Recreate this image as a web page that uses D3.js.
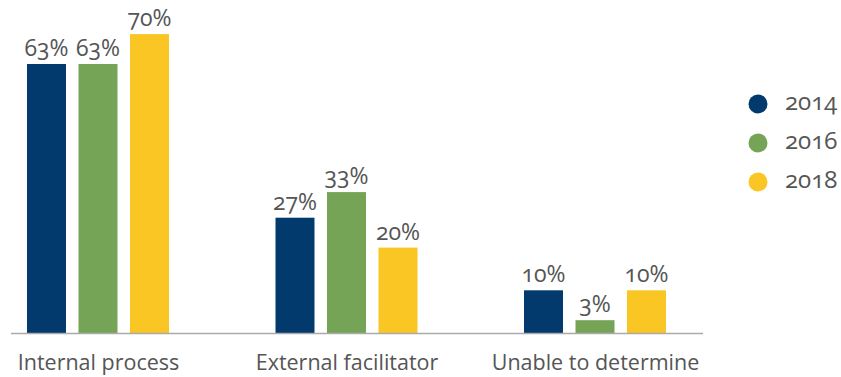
<!DOCTYPE html>
<html><head><meta charset="utf-8">
<script src="https://cdn.jsdelivr.net/npm/d3@7"></script>
<style>
body{margin:0;background:#fff}
svg text{font-family:'Open Sans',sans-serif;font-variant-numeric:oldstyle-nums;font-feature-settings:"onum" 1;fill:#555}
</style>
</head><body>
<svg id="chart" width="841" height="377"></svg>
<script>
// Share of responses by source, per survey year (percent)
const categories = ["Internal process", "External facilitator", "Unable to determine"];
const years = ["2014", "2016", "2018"];
const values2014 = [63, 27, 10];
const values2016 = [63, 33, 3];
const values2018 = [70, 20, 10];
const colors = ["#023a6e", "#75a457", "#f9c623"];

const seriesValues = [values2014, values2016, values2018];
const rows = categories.map((c, i) => ({
  category: c,
  bars: years.map((y, j) => ({ year: y, value: seriesValues[j][i], color: colors[j] }))
}));

const svg = d3.select("#chart");
const baseline = 333;

const x0 = d3.scalePoint().domain(categories).range([98, 595]);
const x1 = d3.scaleBand().domain(years).range([-71, 71]).paddingInner(0.243).paddingOuter(0);
const y = d3.scaleLinear().domain([0, 100]).range([baseline, baseline - 427]);

const groups = svg.selectAll("g.group").data(rows).join("g")
  .attr("class", "group")
  .attr("transform", d => `translate(${x0(d.category)},0)`);

groups.selectAll("rect").data(d => d.bars).join("rect")
  .attr("x", d => x1(d.year))
  .attr("width", x1.bandwidth())
  .attr("y", d => y(d.value))
  .attr("height", d => y(0) - y(d.value))
  .attr("fill", d => d.color);

groups.selectAll("text.value").data(d => d.bars).join("text")
  .attr("class", "value")
  .attr("x", d => x1(d.year) + x1.bandwidth() / 2)
  .attr("y", d => y(d.value) - 8)
  .attr("text-anchor", "middle")
  .style("font-size", "23px")
  .text(d => d.value + "%");

// baseline axis
svg.append("line")
  .attr("x1", 11).attr("x2", 703)
  .attr("y1", baseline + 0.5).attr("y2", baseline + 0.5)
  .attr("stroke", "#aaa").attr("stroke-width", 1.5);

// category labels
const xAxis = d3.axisBottom(x0).tickSize(0).tickPadding(0);
const axisG = svg.append("g").attr("transform", `translate(0,${baseline})`).call(xAxis);
axisG.select(".domain").remove();
axisG.selectAll("text")
  .attr("dy", null)
  .attr("y", 37)
  .attr("fill", null)
  .style("font-size", "21.5px")
  .style("font-family", "'Open Sans',sans-serif");

// legend
const legend = svg.append("g").selectAll("g").data(years).join("g")
  .attr("transform", (d, i) => `translate(758,${104 + i * 39})`);
legend.append("circle").attr("r", 9.5).attr("fill", (d, i) => colors[i]);
legend.append("text")
  .attr("x", 27).attr("y", 6)
  .style("font-size", "24px")
  .text(d => d);
</script>
</body></html>
